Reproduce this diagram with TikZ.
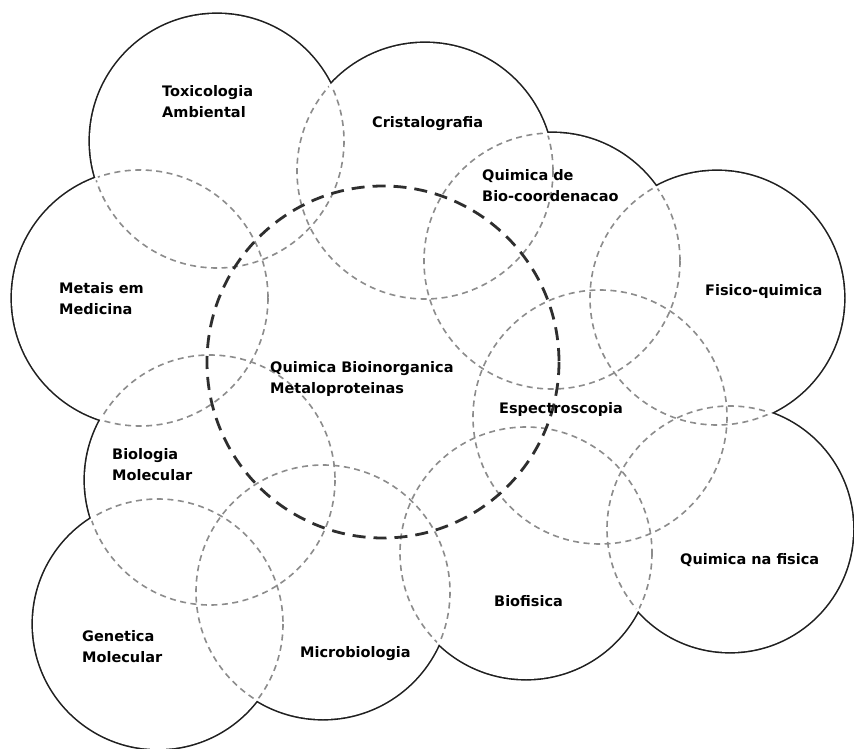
\documentclass[tikz,border=0pt]{standalone}
\usepackage{fontspec}
\setmainfont{DejaVu Sans}
\begin{document}
\begin{tikzpicture}[x=1pt,y=-1pt,
  topic/.style={anchor=north west, inner sep=0pt, align=left,
    font=\fontsize{14.5}{21}\selectfont\bfseries, text=black},
  rim/.style={draw=black!88, line width=3.2pt},
  seam/.style={draw=black!45, line width=1.6pt, dash pattern=on 6pt off 4.5pt},
  core/.style={draw=black!82, line width=2.8pt, dash pattern=on 13pt off 8pt}]
% centre x / centre y / radius of each surrounding field
\def\fields{217/141/127, 425/171/128, 552/261/128, 717/298/127,
  600/417/127, 730/529/123, 526/553/126, 323/592/127,
  158/624/125, 210/480/125, 140/298/128}
\def\corex{383}\def\corey{362}\def\corer{176}
\useasboundingbox (0,0) rectangle (854,749);
\fill[white] (0,0) rectangle (854,749);
% outer outline: wide strokes whose inner halves are covered by white discs
\foreach \cx/\cy/\r in \fields { \draw[rim] (\cx,\cy) circle[radius=\r]; }
\foreach \cx/\cy/\r in \fields { \fill[white] (\cx,\cy) circle[radius=\r]; }
\fill[white] (\corex,\corey) circle[radius=\corer];
% inner seams, kept just inside the outline
\begin{scope}
  \clip (\corex,\corey) circle[radius=\corer]
    foreach \cx/\cy/\r in \fields { (\cx,\cy) circle[radius=\r-2.5] };
  \foreach \cx/\cy/\r in \fields { \draw[seam] (\cx,\cy) circle[radius=\r]; }
\end{scope}
% central field
\draw[core] (\corex,\corey) circle[radius=\corer];
% labels
\node[topic] (tox) at (162,85.5) {Toxicologia\\Ambiental};
\node[topic] (cri) at (372,116.5) {Cristalografia};
\node[topic] (bco) at (482,169.5) {Quimica de\\Bio-coordenacao};
\node[topic] (fis) at (705,284.5) {Fisico-quimica};
\node[topic] (met) at (59,282.5) {Metais em\\Medicina};
\node[topic] (qbi) at (270,361.5) {Quimica Bioinorganica\\Metaloproteinas};
\node[topic] (esp) at (499,402.5) {Espectroscopia};
\node[topic] (bio) at (112,448.5) {Biologia\\Molecular};
\node[topic] (gen) at (82,630.5) {Genetica\\Molecular};
\node[topic] (mic) at (300,646.5) {Microbiologia};
\node[topic] (bfi) at (494,595.5) {Biofisica};
\node[topic] (qnf) at (680,553.5) {Quimica na fisica};
\end{tikzpicture}
\end{document}
